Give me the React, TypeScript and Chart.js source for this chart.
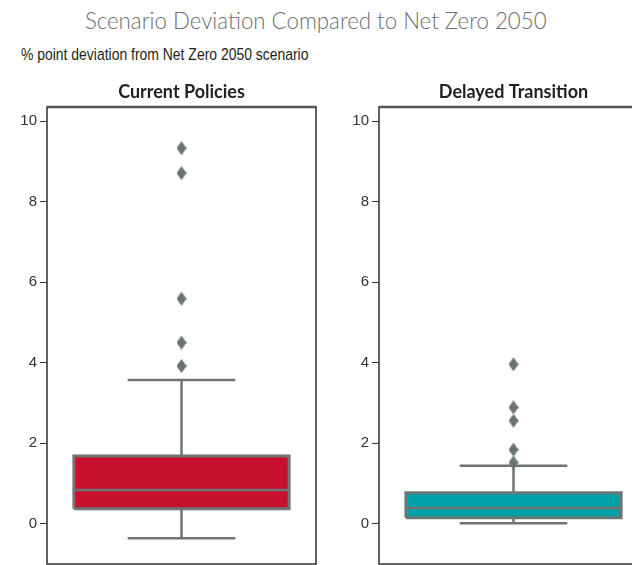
import React, { useEffect, useRef } from 'react';
import { Chart, registerables } from 'chart.js';

Chart.register(...registerables);

// ---- data ----
const categories = ['Current Policies', 'Delayed Transition'];
const q1Values = [0.37, 0.15];
const medianValues = [0.84, 0.39];
const q3Values = [1.68, 0.77];
const whiskerLow = [-0.36, 0.01];
const whiskerHigh = [3.57, 1.44];
const outlierValues = [
  [3.92, 4.5, 5.59, 8.71, 9.33],
  [1.52, 1.84, 2.56, 2.89, 3.96],
];
const yTickValues = [0, 2, 4, 6, 8, 10];
const boxColors = ['#c8102e', '#00a0a8'];

// ---- style ----
const LINE = '#6f7575';
const CENTER = 0.5;
const BOX_HALF = 0.4;
const CAP_HALF = 0.2;

function makeDiamond(): HTMLCanvasElement {
  const c = document.createElement('canvas');
  c.width = 10;
  c.height = 14;
  const ctx = c.getContext('2d')!;
  ctx.fillStyle = '#6b7272';
  ctx.beginPath();
  ctx.moveTo(5, 0);
  ctx.lineTo(10, 7);
  ctx.lineTo(5, 14);
  ctx.lineTo(0, 7);
  ctx.closePath();
  ctx.fill();
  return c;
}

const framePlugin = {
  id: 'frame',
  afterDatasetsDraw(chart: any) {
    const { ctx, chartArea } = chart;
    const { left, top, right, bottom } = chartArea;
    ctx.save();
    ctx.strokeStyle = '#2e2e2e';
    ctx.lineWidth = 1.5;
    ctx.beginPath();
    ctx.moveTo(left, top);
    ctx.lineTo(left, bottom);
    ctx.lineTo(right, bottom);
    ctx.lineTo(right, top);
    ctx.stroke();
    ctx.strokeStyle = '#555';
    ctx.lineWidth = 2.5;
    ctx.beginPath();
    ctx.moveTo(left - 0.75, top);
    ctx.lineTo(right + 0.75, top);
    ctx.stroke();
    ctx.restore();
  },
};

function buildConfig(i: number, diamond: HTMLCanvasElement): any {
  const line = (data: any[], order: number, extra: any = {}) => ({
    type: 'scatter',
    data,
    showLine: true,
    borderColor: LINE,
    borderWidth: 2.5,
    pointRadius: 0,
    pointHoverRadius: 0,
    fill: false,
    order,
    ...extra,
  });
  const q1 = q1Values[i];
  const q3 = q3Values[i];
  const med = medianValues[i];
  const lo = whiskerLow[i];
  const hi = whiskerHigh[i];
  return {
    type: 'scatter',
    data: {
      datasets: [
        line([{ x: CENTER, y: lo }, { x: CENTER, y: hi }], 7),
        line(
          [{ x: CENTER - BOX_HALF, y: q3 }, { x: CENTER + BOX_HALF, y: q3 }],
          6,
          { fill: { value: q1 }, backgroundColor: boxColors[i], borderWidth: 0 }
        ),
        line(
          [
            { x: CENTER - BOX_HALF, y: q1 },
            { x: CENTER + BOX_HALF, y: q1 },
            { x: CENTER + BOX_HALF, y: q3 },
            { x: CENTER - BOX_HALF, y: q3 },
            { x: CENTER - BOX_HALF, y: q1 },
          ],
          5,
          { borderWidth: 3, borderJoinStyle: 'miter' }
        ),
        line([{ x: CENTER - BOX_HALF, y: med }, { x: CENTER + BOX_HALF, y: med }], 4),
        line([{ x: CENTER - CAP_HALF, y: hi }, { x: CENTER + CAP_HALF, y: hi }], 3),
        line([{ x: CENTER - CAP_HALF, y: lo }, { x: CENTER + CAP_HALF, y: lo }], 3),
        {
          type: 'scatter',
          data: outlierValues[i].map((v) => ({ x: CENTER, y: v })),
          pointStyle: diamond,
          pointRadius: 7,
          order: 1,
        },
      ],
    },
    options: {
      animation: false,
      responsive: false,
      devicePixelRatio: 1,
      layout: { padding: { top: 0, right: 4, bottom: 1, left: 0 } },
      scales: {
        x: { type: 'linear', min: 0, max: 1, display: false },
        y: {
          type: 'linear',
          min: -1,
          max: 10.35,
          afterBuildTicks: (s: any) => {
            s.ticks = yTickValues.map((v) => ({ value: v }));
          },
          afterFit: (s: any) => {
            s.width = 47;
            s.paddingTop = 0;
            s.paddingBottom = 0;
          },
          ticks: {
            color: '#333',
            padding: 3,
            font: { family: "'Liberation Sans', sans-serif", size: 15 },
          },
          grid: {
            display: true,
            drawOnChartArea: false,
            drawTicks: true,
            tickLength: 7,
            color: '#333',
            lineWidth: 1,
          },
          border: { display: false },
        },
      },
      plugins: {
        legend: { display: false },
        tooltip: { enabled: false },
        title: {
          display: true,
          text: categories[i],
          fullSize: false,
          color: '#231f20',
          font: { family: 'Lato', weight: 'bold', size: 18, lineHeight: 1.2 },
          padding: { top: 1.5, bottom: 4 },
        },
      },
    },
    plugins: [framePlugin],
  };
}

export default function App() {
  const ref1 = useRef<HTMLCanvasElement>(null);
  const ref2 = useRef<HTMLCanvasElement>(null);

  useEffect(() => {
    const diamond = makeDiamond();
    const charts = [ref1, ref2].map((r, i) => new Chart(r.current!, buildConfig(i, diamond)));
    return () => charts.forEach((c) => c.destroy());
  }, []);

  return (
    <div
      style={{
        position: 'absolute',
        left: 0,
        top: 0,
        width: 632,
        height: 565,
        overflow: 'hidden',
        background: '#fff',
      }}
    >
      <div
        style={{
          position: 'absolute',
          left: 0,
          top: 8.4,
          width: 632,
          textAlign: 'center',
          whiteSpace: 'nowrap',
        }}
      >
        <span
          style={{
            display: 'inline-block',
            fontFamily: 'Lato',
            fontWeight: 300,
            fontSize: 24,
            lineHeight: '24px',
            color: '#6d6e70',
            transform: 'scaleX(0.928)',
            transformOrigin: 'center',
          }}
        >
          Scenario Deviation Compared to Net Zero 2050
        </span>
      </div>
      <div
        style={{
          position: 'absolute',
          left: 21,
          top: 45.9,
          fontFamily: "'Liberation Sans', sans-serif",
          fontSize: 17,
          lineHeight: '17px',
          color: '#231f20',
          whiteSpace: 'nowrap',
          transform: 'scaleX(0.82)',
          transformOrigin: 'left top',
        }}
      >
        % point deviation from Net Zero 2050 scenario
      </div>
      <canvas
        ref={ref1}
        width={324}
        height={492}
        style={{ position: 'absolute', left: 0, top: 80, display: 'block' }}
      />
      <canvas
        ref={ref2}
        width={324}
        height={492}
        style={{ position: 'absolute', left: 332, top: 80, display: 'block' }}
      />
    </div>
  );
}
